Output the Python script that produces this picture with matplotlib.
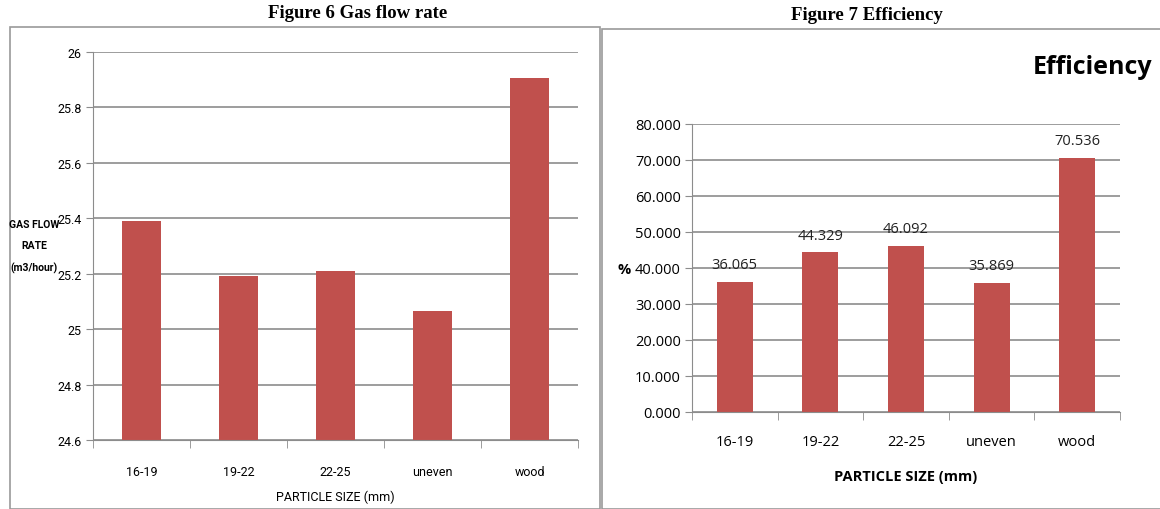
import matplotlib
matplotlib.use('Agg')
import matplotlib.pyplot as plt
from matplotlib.patches import Rectangle

# data
categorias = ['16-19', '19-22', '22-25', 'uneven', 'wood']
vazao_gas = [25.39, 25.19, 25.21, 25.065, 25.905]
eficiencia = [36.065, 44.329, 46.092, 35.869, 70.536]
ticks_vazao = [24.6, 24.8, 25, 25.2, 25.4, 25.6, 25.8, 26]
ticks_efic = [0, 10, 20, 30, 40, 50, 60, 70, 80]

W, H = 1160, 510
COR_BARRA = '#C0504D'
COR_GRADE = '#8C8C8C'
NARROW = ['Roboto', 'Liberation Sans', 'DejaVu Sans']
SANS = ['Open Sans', 'DejaVu Sans']


def caixa(x0, y0, x1, y1):
    # pixel coords (top-left origin) -> axes box in figure fraction
    return [x0 / W, (H - y1) / H, (x1 - x0) / W, (y1 - y0) / H]


def estilo_eixo(ax):
    for lado in ['top', 'right']:
        ax.spines[lado].set_visible(False)
    ax.spines['left'].set_color(COR_GRADE)
    ax.spines['bottom'].set_color(COR_GRADE)
    ax.yaxis.grid(True, color=COR_GRADE, linewidth=1.2)
    ax.set_axisbelow(True)
    ax.tick_params(axis='y', length=5, color=COR_GRADE, direction='out', pad=3)
    ax.tick_params(axis='x', which='major', length=0)
    ax.tick_params(axis='x', which='minor', length=6, color=COR_GRADE, direction='out')
    ax.set_xticks([i + 0.5 for i in range(-1, len(categorias))], minor=True)


fig = plt.figure(figsize=(W / 100, H / 100), dpi=100)

# panel frames
fig.add_artist(Rectangle((10 / W, 0), 590 / W, (H - 28) / H, transform=fig.transFigure,
                         fill=False, edgecolor='#9A9A9A', linewidth=1.2))
fig.add_artist(Rectangle((602 / W, 0), 560 / W, (H - 30) / H, transform=fig.transFigure,
                         fill=False, edgecolor='#9A9A9A', linewidth=1.2))

fig.text(358 / W, 1 - 14 / H, 'Figure 6 Gas flow rate', ha='center', va='center',
         family='Liberation Serif', fontweight='bold', fontsize=13.5)
fig.text(867 / W, 1 - 16 / H, 'Figure 7 Efficiency', ha='center', va='center',
         family='Liberation Serif', fontweight='bold', fontsize=13.5)

# Figure 6
ax1 = fig.add_axes(caixa(93, 53, 578, 441))
x = range(len(categorias))
ax1.bar(x, [v - 24.6 for v in vazao_gas], bottom=24.6, width=0.4, color=COR_BARRA)
ax1.set_xlim(-0.5, len(categorias) - 0.5)
ax1.set_ylim(24.6, 26)
ax1.set_yticks(ticks_vazao)
ax1.set_yticklabels([f'{t:g}' for t in ticks_vazao], family=NARROW, fontsize=9)
ax1.set_xticks(list(x))
ax1.set_xticklabels(categorias, family=NARROW, fontsize=9)
ax1.tick_params(axis='x', pad=18)
estilo_eixo(ax1)
ax1.set_xlabel('PARTICLE SIZE (mm)', family=NARROW, fontsize=9, labelpad=8)
fig.text(34 / W, 1 - 247 / H, 'GAS FLOW\nRATE\n(m3/hour)', ha='center', va='center',
         family=NARROW, fontsize=7.5, fontweight='bold', linespacing=2.4)

# Figure 7
ax2 = fig.add_axes(caixa(692, 125, 1120, 413))
ax2.bar(x, eficiencia, width=0.42, color=COR_BARRA)
for i, v in enumerate(eficiencia):
    ax2.annotate(f'{v:.3f}', (i, v), xytext=(0, 7), textcoords='offset points',
                 ha='center', va='bottom', family=SANS, fontsize=10.5, color='#222222')
ax2.set_xlim(-0.5, len(categorias) - 0.5)
ax2.set_ylim(0, 80)
ax2.set_yticks(ticks_efic)
ax2.set_yticklabels([f'{t:.3f}' for t in ticks_efic], family=SANS, fontsize=10.5)
ax2.set_xticks(list(x))
ax2.set_xticklabels(categorias, family=SANS, fontsize=10.5)
ax2.tick_params(axis='x', pad=16)
estilo_eixo(ax2)
ax2.set_xlabel('PARTICLE SIZE (mm)', family=SANS, fontsize=10.5, fontweight='bold', labelpad=14)
fig.text(624 / W, 1 - 270 / H, '%', ha='center', va='center', family=SANS,
         fontsize=10.5, fontweight='bold')
fig.text(1152 / W, 1 - 68 / H, 'Efficiency', ha='right', va='center', family=SANS,
         fontsize=18, fontweight='bold')

fig.savefig('out.png', dpi=100)
